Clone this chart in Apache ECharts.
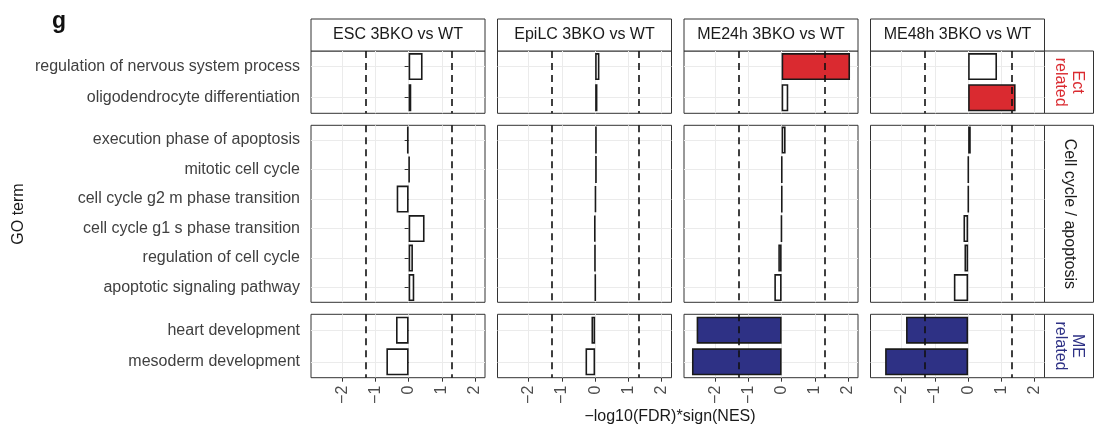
<!DOCTYPE html>
<html><head><meta charset="utf-8">
<script src="https://cdn.jsdelivr.net/npm/echarts@6/dist/echarts.min.js"></script>
<style>html,body{margin:0;padding:0;background:#fff}#c{width:1096px;height:439px}</style>
</head><body><div id="c"></div>
<script>
// ---------- data ----------
const conditions = ['ESC 3BKO vs WT', 'EpiLC 3BKO vs WT', 'ME24h 3BKO vs WT', 'ME48h 3BKO vs WT'];
const groupNames = ['Ect\nrelated', 'Cell cycle / apoptosis', 'ME\nrelated'];
const ectTerms = ['regulation of nervous system process', 'oligodendrocyte differentiation'];
const cellTerms = ['execution phase of apoptosis', 'mitotic cell cycle', 'cell cycle g2 m phase transition',
  'cell cycle g1 s phase transition', 'regulation of cell cycle', 'apoptotic signaling pathway'];
const meTerms = ['heart development', 'mesoderm development'];

const escEct = [0.42, 0.08];
const escCell = [-0.05, 0.03, -0.36, 0.48, 0.13, 0.17];
const escMe = [-0.38, -0.67];
const epiEct = [0.13, 0.07];
const epiCell = [0.05, 0.05, 0.02, -0.02, -0.01, 0.01];
const epiMe = [-0.11, -0.29];
const me24Ect = [2.06, 0.2];
const me24Cell = [0.12, 0.01, 0.01, -0.01, -0.1, -0.22];
const me24Me = [-2.56, -2.7];
const me48Ect = [0.87, 1.43];
const me48Cell = [0.08, 0.01, 0.01, -0.14, -0.11, -0.43];
const me48Me = [-1.87, -2.5];

const xTicks = [-2, -1, 0, 1, 2];
const threshold = 1.301; // -log10(0.05)

// ---------- layout / style ----------
const FONT = "'Liberation Sans', Arial, Helvetica, sans-serif";
const colLeft = [311, 497.5, 684, 870.5];
const colW = 174;
const rowTop = [51, 125.3, 314.3];
const rowH = [62.3, 177, 63.4];
const groupColors = ['#DA2A30', '#1a1a1a', '#2E3185'];
const sigFill = ['#DA2A30', null, '#2E3185'];
const X_MIN = -2.94, X_MAX = 2.30;

const termsByRow = [ectTerms, cellTerms, meTerms];
const valuesByCell = [
  [escEct, epiEct, me24Ect, me48Ect],
  [escCell, epiCell, me24Cell, me48Cell],
  [escMe, epiMe, me24Me, me48Me]
];

const grids = [], xAxes = [], yAxes = [], series = [];
for (let r = 0; r < 3; r++) {
  for (let c = 0; c < 4; c++) {
    const idx = grids.length;
    grids.push({
      left: colLeft[c], top: rowTop[r], width: colW, height: rowH[r],
      show: true, backgroundColor: '#fff', borderColor: '#333', borderWidth: 1, containLabel: false
    });
    const bottom = r === 2;
    xAxes.push({
      type: 'value', gridIndex: idx, min: X_MIN, max: X_MAX, splitNumber: 5,
      axisLine: { show: false },
      axisTick: { show: bottom, customValues: xTicks, length: 4, lineStyle: { color: '#333' } },
      axisLabel: {
        show: bottom, customValues: xTicks, rotate: 90, margin: 8,
        fontSize: 16, fontFamily: FONT, color: '#4D4D4D',
        formatter: v => String(v).replace('-', '\u2212')
      },
      splitLine: { show: true, lineStyle: { color: '#EBEBEB', width: 1 } }
    });
    yAxes.push({
      type: 'category', gridIndex: idx, data: termsByRow[r], inverse: true,
      axisLine: { show: false },
      axisTick: { show: c === 0, alignWithLabel: true, length: 4, lineStyle: { color: '#333' } },
      axisLabel: { show: c === 0, fontSize: 16, fontFamily: FONT, color: '#404040', margin: 11 },
      splitLine: { show: true, alignWithLabel: true, lineStyle: { color: '#EBEBEB', width: 1 } }
    });
    const vals = valuesByCell[r][c];
    series.push({
      type: 'bar', xAxisIndex: idx, yAxisIndex: idx, barWidth: 27,
      data: vals.map(v => ({
        value: v,
        itemStyle: { color: (Math.abs(v) > threshold && sigFill[r]) ? sigFill[r] : '#fff' }
      })),
      itemStyle: { borderColor: '#1a1a1a', borderWidth: 1.6 },
      silent: true,
      markLine: {
        silent: true, symbol: 'none', label: { show: false },
        lineStyle: { type: [7, 5], color: '#111', width: 1.6 },
        data: [{ xAxis: -threshold }, { xAxis: threshold }]
      }
    });
  }
}

const graphic = [];
// column strips
conditions.forEach((name, c) => {
  graphic.push({ type: 'rect', shape: { x: colLeft[c], y: 19, width: colW, height: 32 },
    style: { fill: '#fff', stroke: '#333', lineWidth: 1 } });
  graphic.push({ type: 'text', x: colLeft[c] + colW / 2, y: 35,
    style: { text: name, fill: '#1a1a1a', font: '16px ' + FONT, align: 'center', verticalAlign: 'middle' } });
});
// row strips
groupNames.forEach((name, r) => {
  graphic.push({ type: 'rect', shape: { x: 1044.5, y: rowTop[r], width: 49, height: rowH[r] },
    style: { fill: '#fff', stroke: '#333', lineWidth: 1 } });
  graphic.push({ type: 'text', x: 1069, y: rowTop[r] + rowH[r] / 2, rotation: -Math.PI / 2,
    style: { text: name, fill: groupColors[r], font: '16px ' + FONT, align: 'center', verticalAlign: 'middle', lineHeight: 17 } });
});
graphic.push({ type: 'text', x: 52, y: 22, style: { text: 'g', fill: '#111', font: 'bold 23px ' + FONT, align: 'left', verticalAlign: 'middle' } });
graphic.push({ type: 'text', x: 19, y: 214, rotation: Math.PI / 2,
  style: { text: 'GO term', fill: '#1a1a1a', font: '16px ' + FONT, align: 'center', verticalAlign: 'middle' } });
graphic.push({ type: 'text', x: 670, y: 417,
  style: { text: '\u2212log10(FDR)*sign(NES)', fill: '#1a1a1a', font: '16px ' + FONT, align: 'center', verticalAlign: 'middle' } });

const chart = echarts.init(document.getElementById('c'), null, { renderer: 'canvas' });
chart.setOption({
  animation: false,
  backgroundColor: '#fff',
  grid: grids, xAxis: xAxes, yAxis: yAxes, series: series, graphic: graphic
});
</script></body></html>
